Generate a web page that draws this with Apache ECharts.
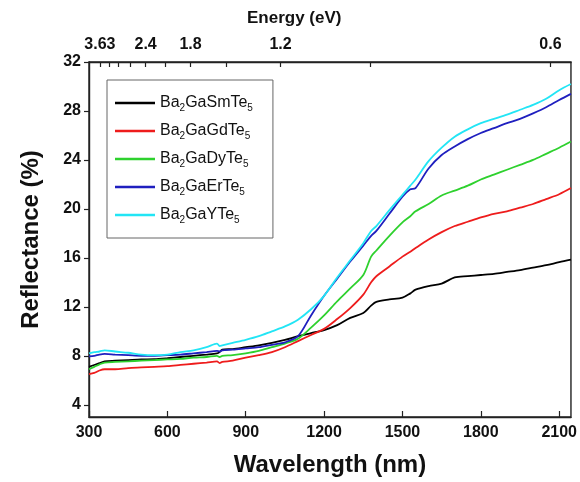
<!DOCTYPE html>
<html>
<head>
<meta charset="utf-8">
<script src="https://cdn.jsdelivr.net/npm/echarts@6/dist/echarts.min.js"></script>
<style>
  html, body { margin: 0; padding: 0; background: #fff; }
  #chart { width: 580px; height: 482px; }
</style>
</head>
<body>
<div id="chart"></div>
<script>
var wavelength = [300, 320, 340, 360, 400, 450, 500, 550, 600, 650, 700, 750, 790, 800, 810, 850, 900, 950, 1000, 1050,
  1100, 1150, 1200, 1250, 1300, 1350, 1380, 1400, 1450, 1500, 1530, 1550, 1600, 1650, 1700, 1750, 1800, 1850, 1900,
  1950, 2000, 2050, 2100, 2145];

var smTe = [7.1, 7.25, 7.4, 7.55, 7.6, 7.65, 7.7, 7.72, 7.8, 7.9, 8.0, 8.1, 8.2, 8.3, 8.5, 8.55, 8.7, 8.85, 9.05, 9.3,
  9.6, 9.85, 10.1, 10.5, 11.1, 11.5, 12.1, 12.4, 12.6, 12.75, 13.1, 13.4, 13.7, 13.9, 14.4, 14.5, 14.6, 14.7, 14.85,
  15.0, 15.2, 15.4, 15.65, 15.85];
var gdTe = [6.5, 6.6, 6.8, 6.9, 6.9, 7.0, 7.05, 7.1, 7.15, 7.25, 7.35, 7.45, 7.55, 7.4, 7.5, 7.6, 7.85, 8.05, 8.3, 8.7,
  9.2, 9.7, 10.2, 11.0, 11.9, 13.0, 14.0, 14.5, 15.3, 16.1, 16.5, 16.8, 17.5, 18.1, 18.6, 18.95, 19.3, 19.6, 19.8,
  20.1, 20.4, 20.8, 21.2, 21.7];
var dyTe = [6.9, 7.1, 7.3, 7.45, 7.5, 7.55, 7.6, 7.65, 7.7, 7.75, 7.85, 7.9, 8.0, 7.9, 8.0, 8.05, 8.2, 8.4, 8.7, 9.0,
  9.4, 10.3, 11.3, 12.45, 13.5, 14.6, 16.1, 16.6, 17.8, 18.9, 19.4, 19.8, 20.4, 21.1, 21.5, 21.9, 22.4, 22.8, 23.2,
  23.6, 24.0, 24.5, 25.0, 25.5];
var erTe = [7.95, 8.0, 8.1, 8.15, 8.1, 8.05, 8.0, 8.0, 8.05, 8.1, 8.2, 8.3, 8.4, 8.35, 8.45, 8.5, 8.6, 8.7, 8.9, 9.1,
  9.6, 11.3, 12.9, 14.3, 15.7, 17.0, 17.8, 18.2, 19.6, 21.0, 21.6, 21.7, 23.3, 24.4, 25.1, 25.7, 26.2, 26.6, 27.0,
  27.35, 27.8, 28.3, 28.9, 29.4];
var yTe = [8.2, 8.3, 8.35, 8.45, 8.35, 8.25, 8.1, 8.05, 8.1, 8.3, 8.45, 8.7, 9.0, 8.8, 8.85, 9.05, 9.3, 9.6, 10.0, 10.4,
  10.95, 11.8, 12.9, 14.4, 15.8, 17.2, 18.2, 18.6, 19.9, 21.15, 21.9, 22.4, 23.9, 25.0, 25.9, 26.5, 27.0, 27.35, 27.7,
  28.1, 28.5, 29.0, 29.7, 30.2];

var seriesNames = ['Ba2GaSmTe5', 'Ba2GaGdTe5', 'Ba2GaDyTe5', 'Ba2GaErTe5', 'Ba2GaYTe5'];
var seriesColors = ['#000000', '#ee1c1c', '#2ed12e', '#1f1fbf', '#22e5f5'];
var seriesData = [smTe, gdTe, dyTe, erTe, yTe];

var xTicks = [300, 600, 900, 1200, 1500, 1800, 2100];
var yTicks = [4, 8, 12, 16, 20, 24, 28, 32];
var energyLabels = [3.63, 2.4, 1.8, 1.2, 0.6];
var energyTicks = [3.6, 3.3, 3.0, 2.7, 2.4, 2.1, 1.8, 1.5, 1.2, 0.9, 0.6];

var chart = echarts.init(document.getElementById('chart'));

var font = 'Liberation Sans, Arial, sans-serif';
var tickFont = { color: '#111', fontSize: 16, fontWeight: 'bold', fontFamily: font };

function toWl(e) { return 1240 / e; }

// "Ba2GaSmTe5" -> rich text with subscript digits
function subLabel(n) {
  return n.split(/(\d)/).filter(function (s) { return s; }).map(function (s) {
    return /\d/.test(s) ? '{sub|' + s + '}' : '{m|' + s + '}';
  }).join('');
}

var series = seriesNames.map(function (name, i) {
  return {
    name: name,
    type: 'line',
    symbol: 'none',
    smooth: 0.3,
    data: wavelength.map(function (w, j) { return [w, seriesData[i][j]]; }),
    lineStyle: { color: seriesColors[i], width: 1.8 },
    itemStyle: { color: seriesColors[i] }
  };
});

var option = {
  animation: false,
  backgroundColor: '#fff',
  grid: { left: 89, right: 8, top: 62, bottom: 63, show: true, borderColor: '#222', borderWidth: 1.4 },
  graphic: [{
    type: 'text', left: 247, top: 10,
    style: { text: 'Energy (eV)', fill: '#111', font: 'bold 17px ' + font }
  }],
  legend: {
    orient: 'vertical', left: 107, top: 80,
    padding: [13, 20, 13, 8], itemGap: 8,
    itemWidth: 40, itemHeight: 2.5,
    icon: 'rect',
    borderColor: '#666', borderWidth: 1,
    data: seriesNames,
    formatter: subLabel,
    textStyle: {
      rich: {
        m: { fontSize: 16, fontFamily: font, color: '#111', lineHeight: 20 },
        sub: { fontSize: 10, fontFamily: font, color: '#111', lineHeight: 10, padding: [10, 0, 0, 0] }
      }
    }
  },
  xAxis: [{
    type: 'value', position: 'bottom', min: 300, max: 2145,
    name: 'Wavelength (nm)', nameLocation: 'middle', nameGap: 36,
    nameTextStyle: { color: '#111', fontSize: 24, fontWeight: 'bold', fontFamily: font },
    axisLine: { lineStyle: { color: '#222', width: 1.4 } },
    axisTick: { inside: true, length: 6, customValues: xTicks, lineStyle: { color: '#222', width: 1.2 } },
    axisLabel: Object.assign({ margin: 8, customValues: xTicks, formatter: function (v) { return String(v); } }, tickFont),
    splitLine: { show: false }
  }, {
    type: 'value', position: 'top', min: 300, max: 2145,
    axisLine: { lineStyle: { color: '#222', width: 1.4 } },
    axisTick: { inside: true, length: 5, customValues: energyTicks.map(toWl), lineStyle: { color: '#222', width: 1.2 } },
    axisLabel: Object.assign({
      margin: 9,
      customValues: energyLabels.map(toWl),
      formatter: function (v) { return String(Math.round(1240 / v * 100) / 100); }
    }, tickFont),
    splitLine: { show: false }
  }],
  yAxis: [{
    type: 'value', min: 3, max: 32,
    name: 'Reflectance (%)', nameLocation: 'middle', nameGap: 46,
    nameTextStyle: { color: '#111', fontSize: 24, fontWeight: 'bold', fontFamily: font },
    axisLine: { lineStyle: { color: '#222', width: 1.4 } },
    axisTick: { inside: false, length: 5, customValues: yTicks, lineStyle: { color: '#222', width: 1.2 } },
    axisLabel: Object.assign({ margin: 8, customValues: yTicks }, tickFont),
    splitLine: { show: false }
  }],
  series: series
};

chart.setOption(option);
</script>
</body>
</html>
